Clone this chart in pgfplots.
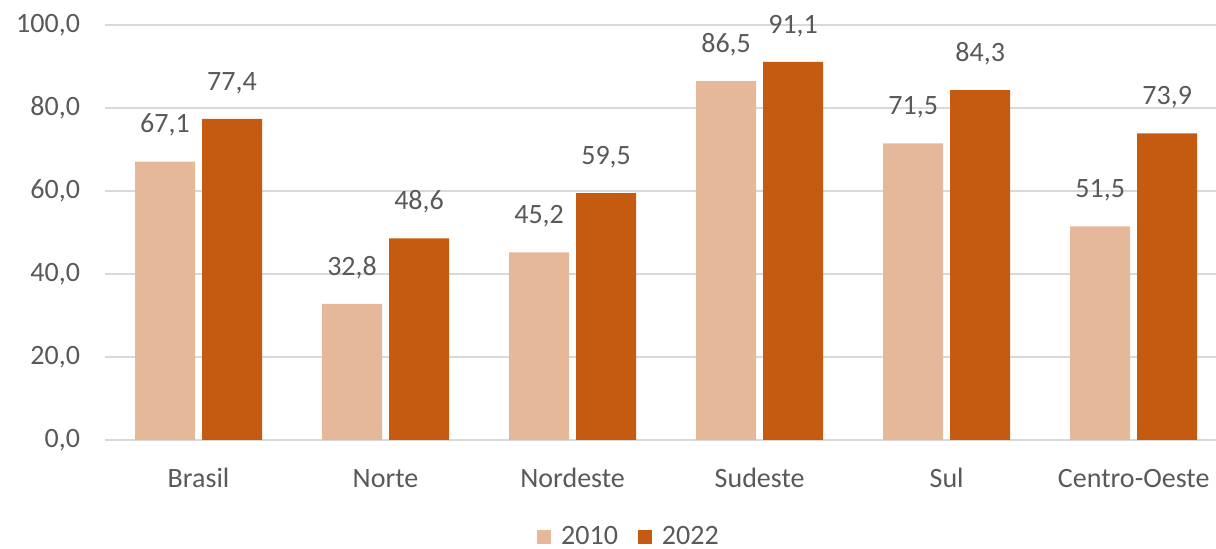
\documentclass[border=0pt]{standalone}
\usepackage{pgfplots}
\pgfplotsset{compat=1.18}
\usepackage{fontspec}
\setmainfont{Carlito}
\definecolor{lightbar}{RGB}{230,184,154}
\definecolor{darkbar}{RGB}{197,90,17}
\definecolor{gridgray}{RGB}{217,217,217}
\definecolor{txtgray}{RGB}{89,89,89}
\begin{document}
\begin{tikzpicture}
\begin{axis}[
    width=555.5pt, height=207.5pt,
    scale only axis,
    ybar=3.5pt,
    bar width=30pt,
    xmin=-0.5, xmax=5.44,
    ymin=0, ymax=100,
    xtick=data,
    xticklabels={Brasil,Norte,Nordeste,Sudeste,Sul,Centro-Oeste},
    ytick={0,20,40,60,80,100},
    major tick length=0pt,
    axis x line*=bottom,
    axis y line*=left,
    y axis line style={draw=none},
    x axis line style={draw=gridgray, line width=0.8pt, -},
    ymajorgrids,
    grid style={draw=gridgray, line width=0.8pt},
    font=\fontsize{14}{16}\selectfont,
    every tick label/.append style={text=txtgray},
    yticklabel style={xshift=-9pt},
    xticklabel style={anchor=base, yshift=-24pt},
    /pgf/number format/.cd, fixed, zerofill, precision=1, use comma, assume math mode=true,
    /pgfplots/.cd,
    nodes near coords,
    every node near coord/.append style={text=txtgray, yshift=9pt},
    legend style={at={(0.4725,-0.234)}, anchor=center, draw=none, legend columns=2,
        /tikz/every even column/.append style={column sep=8pt}, text=txtgray,
        /tikz/every odd column/.append style={column sep=3pt}},
    legend image code/.code={\fill[#1] (0pt,-3.5pt) rectangle (7pt,3.5pt);},
]
\addplot[fill=lightbar, draw=none] coordinates {(0,67.1) (1,32.8) (2,45.2) (3,86.5) (4,71.5) (5,51.5)};
\addlegendentry{2010}
\addplot[fill=darkbar, draw=none] coordinates {(0,77.4) (1,48.6) (2,59.5) (3,91.1) (4,84.3) (5,73.9)};
\addlegendentry{2022}
\end{axis}
\pgfresetboundingbox
\path (-52.5pt,-54.5pt) rectangle (555.5pt,220pt);
\end{tikzpicture}
\end{document}
